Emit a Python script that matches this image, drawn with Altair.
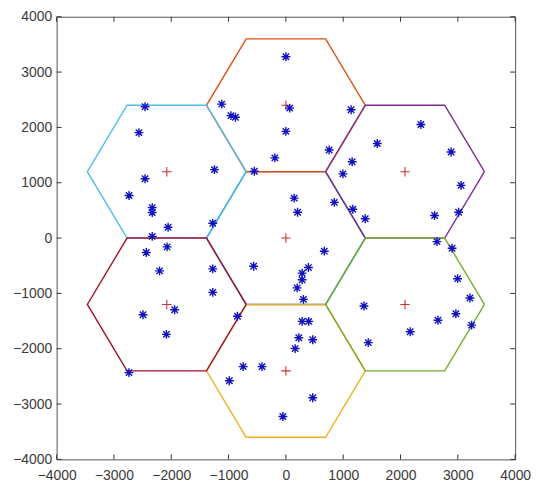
import altair as alt
import pandas as pd
import numpy as np

# ---- data ----
ue_x = [0, -1120, -959, -880, 66, 1138, 0, 755, -192, -551,
        -2457, -2564, -1246, -2457, -2736, -2332, -2332, -2055, -1276, -2332,
        -2073, -2436, -2204, -1276, -1276, -1941, -2493, -2085, -2738, -845,
        -563, 144, 204, 845, 670, 393, 283, 283, 196, 306,
        283, 398, 225, 468, 162, -745, -416, -987, 468, -52,
        995, 1156, 1594, 2355, 2882, 3056, 3014, 2594, 1168, 1384,
        2636, 2900, 2996, 3211, 2966, 2654, 3241, 1362, 2169, 1437]
ue_y = [3278, 2420, 2213, 2183, 2349, 2320, 1929, 1592, 1450, 1207,
        2373, 1905, 1237, 1072, 770, 551, 462, 196, 267, 30,
        -160, -261, -592, -556, -982, -1296, -1385, -1740, -2432, -1414,
        -509, 722, 467, 645, -237, -533, -634, -753, -901, -1108,
        -1505, -1505, -1801, -1837, -1997, -2323, -2323, -2578, -2886, -3224,
        1160, 1379, 1710, 2053, 1556, 953, 467, 408, 521, 349,
        -65, -183, -734, -1083, -1367, -1485, -1574, -1227, -1692, -1890]

bs_x = [0, 0, 0, 2078, 2078, -2078, -2078]
bs_y = [0, 2400, -2400, 1200, -1200, 1200, -1200]
hex_colors = ["#0072BD", "#D95319", "#EDB120", "#7E2F8E", "#77AC30", "#4DBEEE", "#A2142F"]
hex_radius = 1386
tick_values = [-4000, -3000, -2000, -1000, 0, 1000, 2000, 3000, 4000]

W, H = 462, 446
ASTERISK = "M-1,0L1,0M0,-1L0,1M-0.72,-0.72L0.72,0.72M-0.72,0.72L0.72,-0.72"
PLUS = "M-1,0L1,0M0,-1L0,1"

xs = alt.Scale(domain=[-4000, 4000], nice=False, zero=False)
ys = alt.Scale(domain=[-4000, 4000], nice=False, zero=False)
xaxis = alt.Axis(values=tick_values, grid=False, domain=False, ticks=False, format="d",
                 labelPadding=9, labelFlush=False, title=None)
yaxis = alt.Axis(values=tick_values, grid=False, domain=False, ticks=False, format="d",
                 labelPadding=5, labelFlush=False, title=None)

layers = []
angles = np.deg2rad(np.arange(0, 361, 60))
for i, (cx, cy) in enumerate(zip(bs_x, bs_y)):
    hdf = pd.DataFrame({
        "x": cx + hex_radius * np.cos(angles),
        "y": cy + hex_radius * np.sin(angles),
        "k": np.arange(len(angles)),
    })
    layers.append(
        alt.Chart(hdf).mark_line(color=hex_colors[i], strokeWidth=1.4, opacity=1)
        .encode(x=alt.X("x:Q", scale=xs, axis=xaxis),
                y=alt.Y("y:Q", scale=ys, axis=yaxis),
                order="k:Q")
    )

ue_df = pd.DataFrame({"x": ue_x, "y": ue_y})
bs_df = pd.DataFrame({"x": bs_x, "y": bs_y})

layers.append(
    alt.Chart(bs_df).mark_point(shape=PLUS, filled=False, size=90, strokeWidth=1.1,
                                color="#d03030", opacity=1)
    .encode(x=alt.X("x:Q", scale=xs), y=alt.Y("y:Q", scale=ys))
)
layers.append(
    alt.Chart(ue_df).mark_point(shape=ASTERISK, filled=False, size=80, strokeWidth=1.4,
                                color="#1010c0", opacity=1)
    .encode(x=alt.X("x:Q", scale=xs), y=alt.Y("y:Q", scale=ys))
)

tick_df = pd.DataFrame({"v": tick_values})
tc = "#333333"
layers += [
    alt.Chart(tick_df).mark_rule(color=tc, strokeWidth=1)
    .encode(x=alt.X("v:Q", scale=xs), y=alt.value(H), y2=alt.value(H - 5)),
    alt.Chart(tick_df).mark_rule(color=tc, strokeWidth=1)
    .encode(x=alt.X("v:Q", scale=xs), y=alt.value(0), y2=alt.value(5)),
    alt.Chart(tick_df).mark_rule(color=tc, strokeWidth=1)
    .encode(y=alt.Y("v:Q", scale=ys), x=alt.value(0), x2=alt.value(5)),
    alt.Chart(tick_df).mark_rule(color=tc, strokeWidth=1)
    .encode(y=alt.Y("v:Q", scale=ys), x=alt.value(W), x2=alt.value(W - 5)),
]

chart = (
    alt.layer(*layers)
    .properties(width=W, height=H, autosize="none",
                padding={"left": 49, "top": 7, "right": 20, "bottom": 26},
                background="white")
    .configure_view(stroke="#555555", strokeWidth=1)
    .configure_axis(labelFont="Liberation Sans", labelFontSize=14, labelColor="#3a3a3a")
)

chart.save("out.html", embed_options={"renderer": "svg", "actions": False})
